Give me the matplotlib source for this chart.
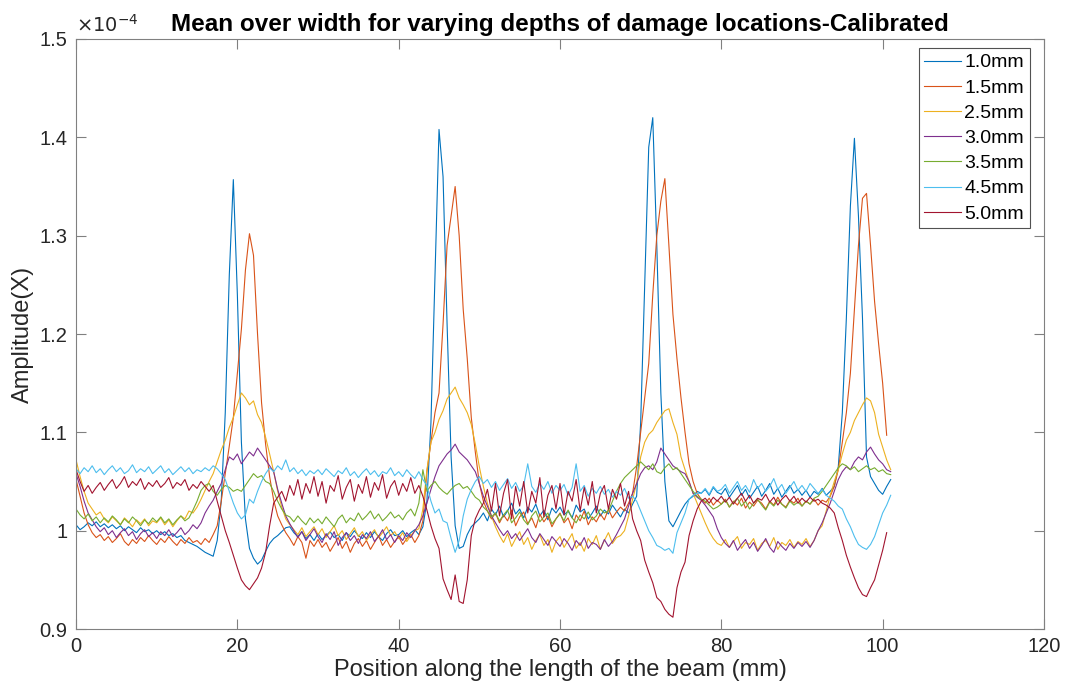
import numpy as np
import matplotlib
matplotlib.use('Agg')
import matplotlib.pyplot as plt
from matplotlib.ticker import FuncFormatter

# Mean amplitude over the beam width, sampled every 0.5 mm, in units of 1e-7
step_mm = 0.5

depth_1_0 = [
    1006, 1001, 1004, 1008, 1005, 1009, 1004, 1007, 1003, 1006, 1002, 1005, 1000, 1004, 1001, 998, 1003, 999, 1001, 997,
    1000, 996, 999, 995, 997, 993, 995, 990, 988, 986, 984, 981, 978, 976, 974, 990, 1030, 1120, 1260, 1357,
    1240, 1090, 1012, 982, 972, 966, 970, 979, 987, 992, 995, 999, 1003, 1004, 998, 994, 999, 992, 996, 990,
    997, 991, 995, 999, 993, 996, 990, 998, 994, 1000, 995, 992, 998, 993, 999, 994, 990, 997, 1001, 995,
    996, 1000, 994, 998, 1001, 996, 1004, 1030, 1110, 1260, 1408, 1360, 1210, 1075, 1005, 982, 984, 996, 1004, 1008,
    1012, 1018, 1010, 1022, 1016, 1025, 1014, 1020, 1028, 1017, 1022, 1013, 1024, 1019, 1027, 1015, 1021, 1011, 1023, 1018,
    1024, 1016, 1020, 1013, 1026, 1019, 1022, 1012, 1018, 1025, 1015, 1021, 1017, 1026, 1020, 1014, 1022, 1018, 1027, 1035,
    1110, 1250, 1390, 1420, 1290, 1140, 1050, 1010, 1004, 1012, 1020, 1027, 1032, 1035, 1040, 1038, 1042, 1036, 1044, 1039,
    1037, 1043, 1034, 1040, 1046, 1036, 1042, 1033, 1039, 1045, 1035, 1041, 1048, 1037, 1043, 1034, 1040, 1046, 1038, 1042,
    1036, 1041, 1034, 1040, 1037, 1043, 1036, 1040, 1045, 1065, 1120, 1216, 1330, 1399, 1320, 1216, 1075, 1055, 1048, 1041,
    1037, 1045, 1052,
]
depth_1_5 = [
    1052, 1035, 1018, 1006, 998, 993, 996, 990, 994, 988, 992, 997, 989, 985, 991, 987, 993, 989, 995, 990,
    986, 992, 988, 994, 989, 985, 991, 987, 993, 988, 990, 986, 992, 988, 996, 1005, 1030, 1058, 1086, 1115,
    1160, 1205, 1265, 1302, 1280, 1200, 1130, 1088, 1055, 1031, 1015, 1006, 998, 992, 985, 994, 988, 972, 990, 984,
    991, 983, 988, 979, 986, 993, 982, 989, 978, 987, 992, 984, 990, 981, 988, 995, 985, 991, 983, 989,
    994, 986, 992, 996, 988, 995, 1010, 1060, 1090, 1120, 1140, 1210, 1290, 1320, 1350, 1300, 1225, 1175, 1115, 1080,
    1048, 1030, 1020, 1012, 1018, 1008, 1016, 1010, 1021, 1005, 1014, 1019, 1007, 1013, 1003, 1017, 1009, 1015, 1004, 1012,
    1018, 1008, 1013, 1002, 1016, 1010, 1020, 1006, 1014, 1009, 1017, 1011, 1022, 1013, 1019, 1024, 1020, 1028, 1038, 1065,
    1100, 1135, 1170, 1240, 1300, 1335, 1358, 1290, 1220, 1175, 1135, 1100, 1068, 1050, 1038, 1032, 1028, 1033, 1026, 1031,
    1027, 1032, 1024, 1030, 1026, 1033, 1023, 1029, 1025, 1031, 1028, 1022, 1030, 1026, 1034, 1027, 1024, 1031, 1028, 1033,
    1025, 1030, 1027, 1032, 1026, 1031, 1029, 1035, 1045, 1062, 1090, 1120, 1160, 1225, 1290, 1338, 1343, 1290, 1233, 1190,
    1150, 1097,
]
depth_2_5 = [
    1072, 1055, 1040, 1028, 1022, 1016, 1019, 1012, 1008, 1014, 1010, 1006, 1013, 1009, 1004, 1011, 1007, 1012, 1005, 1010,
    1008, 1013, 1006, 1011, 1004, 1010, 1015, 1012, 1020, 1018, 1024, 1032, 1041, 1050, 1058, 1070, 1082, 1092, 1105, 1115,
    1128, 1140, 1135, 1128, 1132, 1118, 1110, 1095, 1078, 1060, 1040, 1024, 1012, 1006, 1001, 996, 1003, 994, 999, 1004,
    996, 1002, 993, 999, 1005, 995, 1000, 991, 997, 1003, 994, 999, 990, 996, 1001, 993, 998, 1004, 995, 999,
    992, 998, 989, 995, 1000, 1002, 1022, 1062, 1090, 1100, 1113, 1122, 1134, 1140, 1146, 1135, 1128, 1120, 1108, 1088,
    1065, 1045, 1028, 1015, 1004, 995, 988, 997, 984, 992, 999, 986, 993, 981, 990, 996, 985, 991, 978, 989,
    994, 983, 990, 997, 982, 988, 979, 992, 986, 995, 981, 990, 998, 987, 993, 995, 1000, 1015, 1032, 1048,
    1075, 1090, 1098, 1102, 1110, 1116, 1122, 1124, 1110, 1098, 1075, 1062, 1050, 1038, 1028, 1018, 1008, 999, 992, 987,
    985, 991, 983, 989, 994, 982, 988, 986, 992, 980, 987, 990, 984, 993, 981, 988, 985, 991, 983, 989,
    986, 992, 984, 990, 1000, 1005, 1020, 1036, 1050, 1062, 1078, 1092, 1100, 1112, 1120, 1128, 1135, 1132, 1120, 1098,
    1085, 1072, 1062,
]
depth_3_0 = [
    1058, 1045, 1030, 1018, 1011, 1004, 999, 1003, 996, 1000, 993, 998, 1002, 995, 999, 991, 997, 1001, 994, 998,
    992, 999, 995, 1001, 994, 998, 1003, 996, 1000, 1006, 1002, 1008, 1018, 1025, 1031, 1040, 1048, 1062, 1075, 1072,
    1078, 1068, 1074, 1080, 1076, 1084, 1078, 1072, 1066, 1060, 1042, 1028, 1015, 1007, 1000, 993, 999, 990, 996, 1002,
    994, 988, 997, 991, 999, 985, 993, 998, 990, 995, 987, 996, 992, 999, 989, 994, 1001, 991, 996, 988,
    995, 990, 998, 993, 1000, 1006, 1015, 1028, 1042, 1055, 1066, 1072, 1078, 1082, 1088, 1080, 1076, 1072, 1066, 1060,
    1048, 1035, 1025, 1015, 1008, 1001, 995, 1000, 992, 997, 990, 996, 1002, 993, 988, 997, 991, 985, 994, 989,
    984, 992, 987, 980, 990, 985, 993, 982, 988, 986, 981, 991, 984, 989, 996, 1004, 1012, 1025, 1038, 1048,
    1058, 1064, 1066, 1062, 1070, 1084, 1078, 1072, 1066, 1063, 1060, 1058, 1050, 1038, 1034, 1031, 1026, 1020, 1014, 1002,
    993, 987, 983, 990, 980, 986, 991, 982, 988, 979, 985, 992, 983, 978, 989, 984, 980, 987, 982, 988,
    984, 989, 983, 990, 1000, 1008, 1018, 1028, 1040, 1052, 1060, 1065, 1062, 1070, 1075, 1072, 1080, 1085, 1078, 1072,
    1068, 1062, 1060,
]
depth_3_5 = [
    1022, 1016, 1012, 1017, 1010, 1014, 1008, 1013, 1009, 1015, 1011, 1006, 1012, 1008, 1014, 1010, 1005, 1011, 1007, 1013,
    1009, 1014, 1008, 1012, 1006, 1011, 1015, 1010, 1013, 1021, 1030, 1041, 1046, 1048, 1040, 1036, 1042, 1046, 1044, 1040,
    1042, 1040, 1046, 1052, 1058, 1054, 1056, 1050, 1048, 1040, 1030, 1022, 1016, 1014, 1009, 1015, 1010, 1006, 1013, 1008,
    1012, 1007, 1014, 1009, 1004, 1012, 1016, 1008, 1013, 1010, 1018, 1011, 1015, 1020, 1012, 1017, 1010, 1014, 1019, 1013,
    1016, 1011, 1018, 1022, 1015, 1028, 1062, 1040, 1046, 1050, 1044, 1040, 1037, 1042, 1046, 1048, 1043, 1045, 1040, 1034,
    1031, 1024, 1020, 1014, 1018, 1010, 1016, 1021, 1008, 1013, 1019, 1011, 1006, 1015, 1020, 1009, 1014, 1018, 1007, 1012,
    1017, 1010, 1021, 1013, 1008, 1016, 1012, 1019, 1011, 1015, 1022, 1018, 1020, 1030, 1040, 1048, 1054, 1058, 1062, 1066,
    1070, 1066, 1062, 1068, 1060, 1058, 1064, 1068, 1062, 1064, 1058, 1052, 1046, 1040, 1035, 1032, 1030, 1026, 1022, 1024,
    1027, 1031, 1024, 1029, 1033, 1025, 1030, 1022, 1028, 1032, 1026, 1021, 1029, 1025, 1031, 1027, 1023, 1030, 1026, 1029,
    1025, 1030, 1027, 1033, 1035, 1040, 1046, 1052, 1058, 1064, 1068, 1066, 1062, 1065, 1060, 1063, 1066, 1062, 1064, 1060,
    1062, 1058, 1057,
]
depth_4_5 = [
    1063, 1058, 1064, 1060, 1066, 1059, 1063, 1057, 1062, 1066, 1060, 1064, 1058, 1061, 1067, 1059, 1063, 1060, 1065, 1058,
    1062, 1066, 1059, 1063, 1057, 1061, 1065, 1060, 1064, 1058, 1062, 1060, 1064, 1061, 1066, 1063, 1058, 1052, 1040, 1028,
    1018, 1012, 1016, 1032, 1028, 1040, 1050, 1058, 1064, 1060, 1066, 1062, 1072, 1060, 1064, 1058, 1062, 1056, 1061, 1058,
    1062, 1057, 1063, 1059, 1055, 1061, 1058, 1064, 1056, 1060, 1054, 1059, 1063, 1057, 1061, 1055, 1060, 1058, 1064, 1056,
    1060, 1055, 1062, 1057, 1053, 1060, 1052, 1046, 1030, 1018, 1022, 1010, 1008, 992, 978, 990, 1015, 1032, 1042, 1050,
    1055, 1048, 1052, 1044, 1050, 1041, 1047, 1053, 1043, 1049, 1040, 1046, 1068, 1045, 1039, 1048, 1042, 1050, 1038, 1046,
    1041, 1047, 1036, 1044, 1068, 1040, 1046, 1035, 1043, 1038, 1045, 1037, 1042, 1034, 1040, 1036, 1043, 1033, 1035, 1030,
    1020, 1010, 1000, 993, 985, 983, 980, 982, 977, 998, 1008, 1018, 1032, 1036, 1038, 1038, 1043, 1037, 1045, 1040,
    1042, 1047, 1038, 1044, 1050, 1041, 1046, 1039, 1052, 1043, 1048, 1040, 1045, 1053, 1042, 1047, 1038, 1044, 1050, 1041,
    1046, 1040, 1048, 1043, 1038, 1042, 1036, 1033, 1030, 1025, 1022, 1012, 1004, 994, 986, 983, 981, 986, 994, 1006,
    1018, 1026, 1036,
]
depth_5_0 = [
    1062, 1050, 1040, 1046, 1038, 1044, 1049, 1041, 1047, 1052, 1043, 1048, 1055, 1044, 1050, 1046, 1053, 1042, 1049, 1045,
    1051, 1044, 1048, 1054, 1043, 1049, 1046, 1052, 1041, 1047, 1043, 1050, 1045, 1040, 1046, 1030, 1015, 1000, 988, 975,
    962, 950, 944, 940, 946, 952, 962, 978, 1005, 1028, 1034, 1040, 1030, 1046, 1036, 1052, 1032, 1048, 1038, 1055,
    1035, 1050, 1028, 1046, 1040, 1056, 1032, 1044, 1052, 1030, 1047, 1038, 1055, 1034, 1049, 1041, 1057, 1033, 1045, 1051,
    1036, 1048, 1040, 1054, 1038, 1046, 1035, 1021, 1005, 992, 982, 951, 940, 930, 955, 928, 926, 950, 995, 1012,
    1021, 1028, 1042, 1020, 1048, 1015, 1038, 1052, 1012, 1045, 1025, 1050, 1018, 1040, 1028, 1054, 1014, 1036, 1046, 1022,
    1048, 1016, 1040, 1030, 1052, 1020, 1044, 1026, 1050, 1018, 1038, 1046, 1022, 1042, 1032, 1048, 1025, 1040, 1012, 1000,
    990, 970, 958, 947, 932, 928, 920, 915, 912, 942, 958, 968, 995, 1010, 1022, 1030, 1033, 1028, 1034, 1030,
    1035, 1029, 1034, 1027, 1033, 1038, 1030, 1036, 1028, 1033, 1031, 1037, 1029, 1034, 1026, 1032, 1036, 1030, 1035, 1028,
    1033, 1029, 1034, 1030, 1032, 1028, 1026, 1023, 1018, 1003, 990, 975, 963, 952, 942, 935, 933, 942, 950, 965,
    980, 998,
]

labels = ['1.0mm', '1.5mm', '2.5mm', '3.0mm', '3.5mm', '4.5mm', '5.0mm']
series = [depth_1_0, depth_1_5, depth_2_5, depth_3_0, depth_3_5, depth_4_5, depth_5_0]

# MATLAB default line colour order
colors = ['#0072BD', '#D95319', '#EDB120', '#7E2F8E', '#77AC30', '#4DBEEE', '#A2142F']

x_ticks = [0, 20, 40, 60, 80, 100, 120]
y_ticks = [0.9, 1.0, 1.1, 1.2, 1.3, 1.4, 1.5]


def plot_depths():
    plt.rcParams['font.family'] = ['Liberation Sans', 'DejaVu Sans']
    text_color = '#262626'

    fig = plt.figure(figsize=(10.68, 7.0), dpi=100)
    ax = fig.add_axes([0.0712, 0.1014, 0.9063, 0.8429])

    for vals, label, color in zip(series, labels, colors):
        y = np.array(vals) / 1000.0
        x = np.arange(len(y)) * step_mm
        ax.plot(x, y, color=color, linewidth=0.8, label=label)

    ax.set_xlim(0, 120)
    ax.set_ylim(0.9, 1.5)
    ax.set_xticks(x_ticks)
    ax.set_yticks(y_ticks)
    ax.yaxis.set_major_formatter(FuncFormatter(lambda v, pos: '%g' % round(v, 2)))

    ax.tick_params(direction='in', length=7, width=0.8, top=True, right=True,
                   labelsize=14.5, pad=6)
    for spine in ax.spines.values():
        spine.set_color('#808080')
        spine.set_linewidth(0.8)
    ax.tick_params(colors='#808080', labelcolor=text_color)

    ax.set_xlabel('Position along the length of the beam (mm)', fontsize=17, color=text_color, labelpad=2)
    ax.set_ylabel('Amplitude(X)', fontsize=17, color=text_color, labelpad=4)
    ax.set_title('Mean over width for varying depths of damage locations-Calibrated',
                 fontsize=17.5, fontweight='bold', color='black', pad=6)

    # exponent label in the top-left corner
    ax.text(0.0, 1.005, r'$\times10^{-4}$', transform=ax.transAxes, fontsize=14,
            color=text_color, ha='left', va='bottom')

    leg = ax.legend(loc='upper right', bbox_to_anchor=(0.9855, 0.9847), borderaxespad=0,
                    fontsize=14, frameon=True, fancybox=False,
                    handlelength=1.9, handletextpad=0.15, labelspacing=0.39, borderpad=0.3)
    leg.get_frame().set_edgecolor('#262626')
    leg.get_frame().set_linewidth(0.8)

    fig.savefig('out.png', dpi=100)


if __name__ == '__main__':
    plot_depths()
